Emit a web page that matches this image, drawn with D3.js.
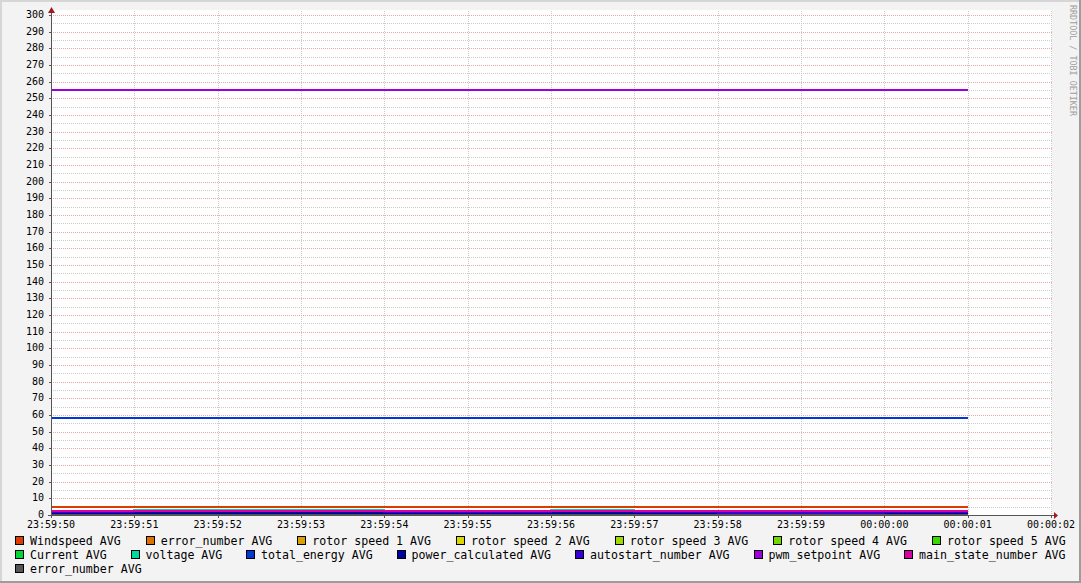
<!DOCTYPE html>
<html>
<head>
<meta charset="utf-8">
<script src="https://cdn.jsdelivr.net/npm/d3@7"></script>
<style>
  body { margin: 0; background: #f3f3f3; }
  svg { display: block; }
  text { font-family: "DejaVu Sans Mono", monospace; }
</style>
</head>
<body>
<svg id="chart" width="1081" height="583"></svg>
<script>
// one value per second, 23:59:50 .. 00:00:00 (the last step ends at 00:00:01)
let times = ['23:59:50', '23:59:51', '23:59:52', '23:59:53', '23:59:54', '23:59:55',
             '23:59:56', '23:59:57', '23:59:58', '23:59:59', '00:00:00', '00:00:01'];

let seriesNames = ['Windspeed AVG', 'error_number AVG', 'rotor speed 1 AVG', 'rotor speed 2 AVG',
    'rotor speed 3 AVG', 'rotor speed 4 AVG', 'rotor speed 5 AVG', 'Current AVG', 'voltage AVG',
    'total_energy AVG', 'power_calculated AVG', 'autostart_number AVG', 'pwm_setpoint AVG',
    'main_state_number AVG', 'error_number AVG'];

let seriesColors = ['#dd3c00', '#dd7000', '#d8a000', '#d8d800', '#a0d800', '#70d800', '#38d800',
    '#00d838', '#00d8a0', '#0038d8', '#0000a0', '#3800d8', '#a000d8', '#d800a0', '#555555'];

let windspeed        = [5, 5, 5, 5, 5, 5, 5, 5, 5, 5, 5];
let errorNumber      = [0, 0, 0, 0, 0, 0, 0, 0, 0, 0, 0];
let rotor1           = [0, 0, 0, 0, 0, 0, 0, 0, 0, 0, 0];
let rotor2           = [0, 0, 0, 0, 0, 0, 0, 0, 0, 0, 0];
let rotor3           = [0, 0, 0, 0, 0, 0, 0, 0, 0, 0, 0];
let rotor4           = [0, 0, 0, 0, 0, 0, 0, 0, 0, 0, 0];
let rotor5           = [0, 0, 0, 0, 0, 0, 0, 0, 0, 0, 0];
let current          = [0.5, 0.5, 0.5, 0.5, 0.5, 0.5, 0.5, 0.5, 0, 0, 0.5];
let voltage          = [1.5, 3.2, 3.2, 3.2, 1.5, 1.5, 3.2, 1.5, 2.1, 2.0, 1.5];
let totalEnergy      = [58, 58, 58, 58, 58, 58, 58, 58, 58, 58, 58];
let powerCalculated  = [1.5, 1.5, 1.5, 1.5, 1.5, 1.5, 1.5, 1.5, 1.1, 1.1, 1.5];
let autostartNumber  = [2.0, 2.6, 2.6, 2.6, 2.0, 2.0, 2.6, 2.0, 1.1, 1.1, 2.0];
let pwmSetpoint      = [255, 255, 255, 255, 255, 255, 255, 255, 255, 255, 255];
let mainStateNumber  = [2.6, 2.6, 2.6, 2.6, 2.6, 2.6, 2.6, 2.6, 2.6, 2.6, 2.6];
let errorNumber2     = [0, 0, 0, 0, 0, 0, 0, 0, 0, 0, 0];

let seriesValues = [windspeed, errorNumber, rotor1, rotor2, rotor3, rotor4, rotor5, current,
    voltage, totalEnergy, powerCalculated, autostartNumber, pwmSetpoint, mainStateNumber, errorNumber2];

let yTicks = d3.range(0, 301, 10);

const W = 1081, H = 583;
const plotLeft = 51, plotRight = 1051, plotTop = 15, plotBottom = 515;

const svg = d3.select('#chart');

// frame
svg.append('rect').attr('width', W).attr('height', H).attr('fill', '#f3f3f3');
svg.append('rect').attr('x', 0).attr('y', 0).attr('width', W).attr('height', 2).attr('fill', '#d6d6d6');
svg.append('rect').attr('x', 0).attr('y', 0).attr('width', 2).attr('height', H).attr('fill', '#d6d6d6');
svg.append('rect').attr('x', W - 2).attr('y', 0).attr('width', 2).attr('height', H).attr('fill', '#9c9c9c');
svg.append('rect').attr('x', 0).attr('y', H - 2).attr('width', W).attr('height', 2).attr('fill', '#9c9c9c');

const parse = s => {
    let p = s.split(':').map(Number);
    let day = p[0] < 12 ? 2 : 1;
    return new Date(2020, 0, day, p[0], p[1], p[2]);
};
const dates = times.map(parse);

const x = d3.scaleTime()
    .domain([dates[0], d3.timeSecond.offset(dates[0], 12)])
    .range([plotLeft, plotRight]);
const y = d3.scaleLinear().domain([0, 300]).range([plotBottom, plotTop]);

// canvas
svg.append('rect').attr('x', plotLeft).attr('y', 10).attr('width', plotRight - plotLeft + 1).attr('height', plotBottom - 10)
    .attr('fill', '#ffffff');

// minor horizontal grid
const grid = svg.append('g').attr('shape-rendering', 'crispEdges');
grid.selectAll('line.hmin')
    .data(d3.range(5, 300, 10))
    .join('line')
    .attr('x1', plotLeft).attr('x2', plotRight + 1)
    .attr('y1', d => Math.round(y(d)) + 0.5).attr('y2', d => Math.round(y(d)) + 0.5)
    .attr('stroke', '#cccccc').attr('stroke-dasharray', '1,1');

const xTicks = x.ticks(d3.timeSecond.every(1));

grid.selectAll('line.v')
    .data(xTicks.slice(1))
    .join('line')
    .attr('x1', d => Math.round(x(d)) + 0.5).attr('x2', d => Math.round(x(d)) + 0.5)
    .attr('y1', 11).attr('y2', plotBottom)
    .attr('stroke', '#cccccc').attr('stroke-dasharray', '1,1');

grid.selectAll('line.hmaj')
    .data(yTicks.slice(1))
    .join('line')
    .attr('x1', plotLeft).attr('x2', plotRight + 1)
    .attr('y1', d => Math.round(y(d)) + 0.5).attr('y2', d => Math.round(y(d)) + 0.5)
    .attr('stroke', '#eaa8a8').attr('stroke-dasharray', '1,1');

// data lines, drawn in legend order
const line = d3.line()
    .x(d => x(d[0]))
    .y(d => y(d[1]))
    .curve(d3.curveStepAfter);

seriesValues.forEach((vals, i) => {
    let pts = vals.map((v, k) => [dates[k], v]);
    pts.push([dates[vals.length], vals[vals.length - 1]]);
    svg.append('path')
        .datum(pts)
        .attr('d', line)
        .attr('fill', 'none')
        .attr('stroke', seriesColors[i])
        .attr('stroke-width', 2)
        .attr('shape-rendering', 'crispEdges');
});

// axes
const ax = svg.append('g').attr('shape-rendering', 'crispEdges');
ax.append('line').attr('x1', plotLeft - 3).attr('x2', plotRight + 4).attr('y1', plotBottom + 0.5).attr('y2', plotBottom + 0.5)
    .attr('stroke', '#555');
ax.append('line').attr('x1', plotLeft + 0.5).attr('x2', plotLeft + 0.5).attr('y1', plotBottom + 3).attr('y2', 12)
    .attr('stroke', '#555');
ax.selectAll('line.yt')
    .data(yTicks)
    .join('line')
    .attr('x1', plotLeft - 2).attr('x2', plotLeft)
    .attr('y1', d => Math.round(y(d)) + 0.5).attr('y2', d => Math.round(y(d)) + 0.5)
    .attr('stroke', '#555');
ax.selectAll('line.xt')
    .data(xTicks)
    .join('line')
    .attr('x1', d => Math.round(x(d)) + 0.5).attr('x2', d => Math.round(x(d)) + 0.5)
    .attr('y1', plotBottom + 1).attr('y2', plotBottom + 3)
    .attr('stroke', '#555');
svg.append('path').attr('d', `M${plotRight + 3},${plotBottom - 3}L${plotRight + 7},${plotBottom + 0.5}L${plotRight + 3},${plotBottom + 4}Z`)
    .attr('fill', '#a01c1c');
svg.append('path').attr('d', `M${plotLeft - 3},${13}L${plotLeft + 0.5},${7}L${plotLeft + 4},${13}Z`)
    .attr('fill', '#a01c1c');

// tick labels
svg.append('g').selectAll('text')
    .data(yTicks)
    .join('text')
    .attr('x', 44).attr('y', d => y(d) - 0.5)
    .attr('dy', '0.35em')
    .attr('text-anchor', 'end')
    .attr('font-size', 10)
    .attr('fill', '#000')
    .text(d => d);

const fmt = d3.timeFormat('%H:%M:%S');
svg.append('g').selectAll('text')
    .data(xTicks)
    .join('text')
    .attr('x', d => x(d)).attr('y', 524.5)
    .attr('dy', '0.35em')
    .attr('text-anchor', 'middle')
    .attr('font-size', 10)
    .attr('fill', '#000')
    .text(d => fmt(d));

// watermark
svg.append('text')
    .attr('transform', 'translate(1070,5) rotate(90)')
    .attr('font-size', 8.4)
    .attr('fill', '#a0a0a0')
    .text('RRDTOOL / TOBI OETIKER');

// legend, justified rows like rrdtool
const rows = [[0, 1, 2, 3, 4, 5, 6], [7, 8, 9, 10, 11, 12, 13], [14]];
const charW = 7, legStart = 15, legEnd = 1066;
const rowY = [541, 555, 569];
const legend = svg.append('g');
rows.forEach((row, r) => {
    let widths = row.map(i => 15 + seriesNames[i].length * charW);
    let total = d3.sum(widths);
    let gap = row.length > 1 && r < rows.length - 1 ? (legEnd - legStart - total) / (row.length - 1) : 24;
    let cx = legStart;
    row.forEach((i, k) => {
        legend.append('rect')
            .attr('x', Math.round(cx) + 0.5).attr('y', rowY[r] - 4.5)
            .attr('width', 8).attr('height', 8)
            .attr('fill', seriesColors[i]).attr('stroke', '#000')
            .attr('shape-rendering', 'crispEdges');
        legend.append('text')
            .attr('x', cx + 15).attr('y', rowY[r])
            .attr('dy', '0.35em')
            .attr('font-size', 11.6)
            .attr('fill', '#000')
            .text(seriesNames[i]);
        cx += widths[k] + gap;
    });
});
</script>
</body>
</html>
